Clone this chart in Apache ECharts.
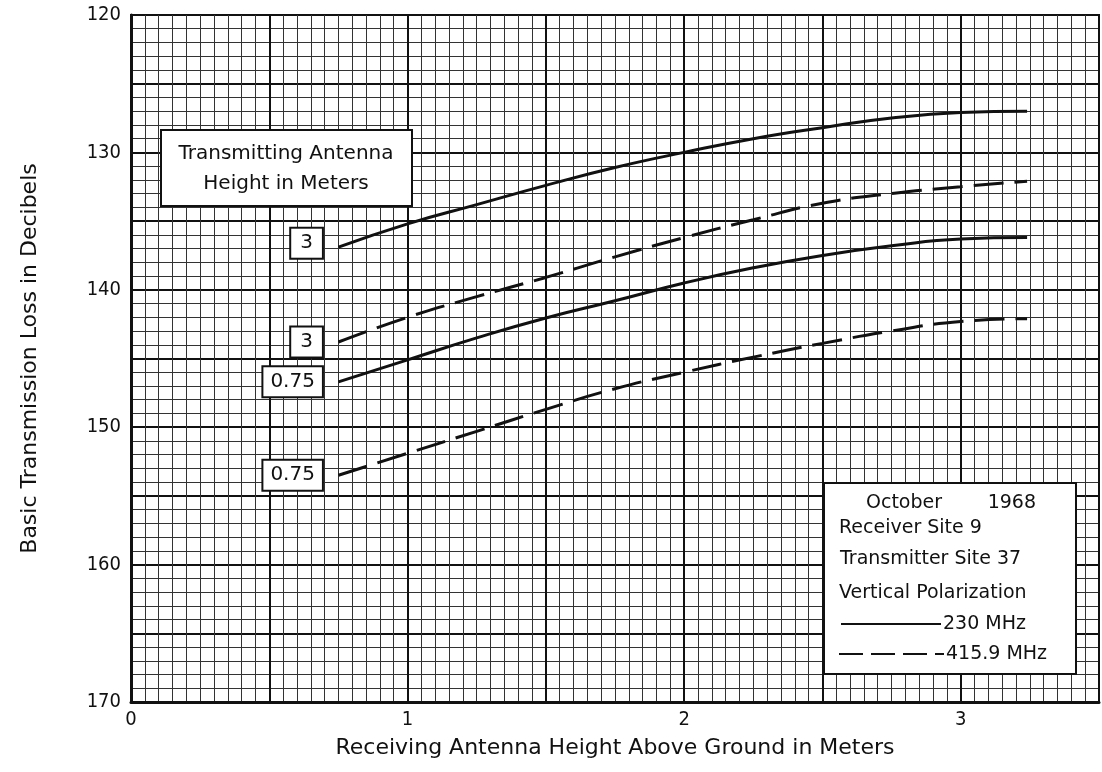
<!DOCTYPE html>
<html>
<head>
<meta charset="utf-8">
<script src="https://cdn.jsdelivr.net/npm/echarts@6/dist/echarts.min.js"></script>
<style>
html,body{margin:0;padding:0;background:#fff;}
#chart{width:1102px;height:772px;}
</style>
</head>
<body>
<div id="chart"></div>
<script>
// ---- data ----
const xPoints = [0.75, 1.0, 1.25, 1.5, 1.75, 2.0, 2.25, 2.5, 2.75, 3.0, 3.24];
const loss230_tx3 = [136.9, 135.2, 133.8, 132.4, 131.1, 130.0, 129.0, 128.2, 127.5, 127.1, 127.0];
const loss416_tx3 = [143.8, 142.0, 140.5, 139.1, 137.6, 136.2, 134.9, 133.7, 133.0, 132.5, 132.1];
const loss230_tx075 = [146.7, 145.1, 143.5, 142.05, 140.8, 139.5, 138.4, 137.5, 136.8, 136.3, 136.2];
const loss416_tx075 = [153.5, 151.9, 150.3, 148.7, 147.2, 146.0, 144.9, 143.9, 143.0, 142.3, 142.1];
const seriesNames = ['230 MHz, 3 m', '415.9 MHz, 3 m', '230 MHz, 0.75 m', '415.9 MHz, 0.75 m'];
const seriesTxLabels = ['3', '3', '0.75', '0.75'];
const seriesDashed = [false, true, false, true];
const xTickLabels = [0, 1, 2, 3];
const yTickLabels = [120, 130, 140, 150, 160, 170];
const legendLines = ['Receiver Site 9', 'Transmitter Site 37', 'Vertical Polarization'];
const freqLabels = ['230 MHz', '415.9 MHz'];

const FONT = "'DejaVu Sans', sans-serif";
const NUMFONT = "'DejaVu Sans Condensed', 'DejaVu Sans', sans-serif";
const allY = [loss230_tx3, loss416_tx3, loss230_tx075, loss416_tx075];

const series = allY.map((ys, i) => ({
  name: seriesNames[i],
  type: 'line',
  smooth: true,
  symbol: 'none',
  data: xPoints.map((x, k) => [x, ys[k]]),
  lineStyle: { color: '#111', width: 3, type: seriesDashed[i] ? [30, 11] : 'solid' },
  z: 5,
  markPoint: {
    symbol: 'circle', symbolSize: 1,
    itemStyle: { color: 'rgba(0,0,0,0)' },
    data: [{
      coord: [xPoints[0], ys[0]],
      label: {
        show: true, position: 'left', distance: 16,
        formatter: seriesTxLabels[i],
        fontFamily: FONT, fontSize: 20, color: '#111',
        backgroundColor: '#fff', borderColor: '#111', borderWidth: 2,
        padding: seriesTxLabels[i] === '3' ? [5, 9, 4, 9] : [5, 7, 4, 7],
        offset: i === 0 ? [0, -4] : [0, 0]
      }
    }]
  }
}));

function txt(x, y, s, size, align) {
  return { type: 'text', x: x, y: y, z: 101,
    style: { text: s, fontFamily: FONT, fontSize: size, fill: '#111', align: align || 'left', verticalAlign: 'middle' } };
}

const chart = echarts.init(document.getElementById('chart'), null, { renderer: 'canvas' });
chart.setOption({
  animation: false,
  backgroundColor: '#fff',
  grid: { left: 131, top: 15, right: 1, bottom: 70, show: true, borderColor: '#111', borderWidth: 2, backgroundColor: '#fff' },
  xAxis: {
    type: 'value', min: 0, max: 3.5, interval: 0.5,
    name: 'Receiving Antenna Height Above Ground in Meters',
    nameLocation: 'middle', nameGap: 35,
    nameTextStyle: { fontFamily: FONT, fontSize: 22, color: '#111' },
    axisLine: { show: true, onZero: false, lineStyle: { color: '#111', width: 3 } },
    axisTick: { show: false },
    axisLabel: {
      margin: 8, fontFamily: NUMFONT, fontSize: 20, color: '#111',
      formatter: v => xTickLabels.indexOf(v) >= 0 ? String(v) : ''
    },
    splitLine: { show: true, lineStyle: { color: '#111', width: 2 } },
    minorTick: { show: false, splitNumber: 10 },
    minorSplitLine: { show: true, lineStyle: { color: '#333', width: 1 } }
  },
  yAxis: {
    type: 'value', inverse: true, min: 120, max: 170, interval: 5,
    name: 'Basic Transmission Loss in Decibels',
    nameLocation: 'middle', nameGap: 90,
    nameTextStyle: { fontFamily: FONT, fontSize: 22, color: '#111' },
    axisLine: { show: true, onZero: false, lineStyle: { color: '#111', width: 3 } },
    axisTick: { show: false },
    axisLabel: {
      margin: 10, fontFamily: NUMFONT, fontSize: 20, color: '#111',
      formatter: v => yTickLabels.indexOf(v) >= 0 ? String(v) : ''
    },
    splitLine: { show: true, lineStyle: { color: '#111', width: 2 } },
    minorTick: { show: false, splitNumber: 5 },
    minorSplitLine: { show: true, lineStyle: { color: '#333', width: 1 } }
  },
  series: series,
  graphic: [
    {
      type: 'group', left: 160, top: 129, z: 100,
      children: [
        { type: 'rect', z: 100, shape: { x: 0, y: 0, width: 251, height: 76 },
          style: { fill: '#fff', stroke: '#111', lineWidth: 2 } },
        txt(125, 24, 'Transmitting Antenna', 20, 'center'),
        txt(125, 54, 'Height in Meters', 20, 'center')
      ]
    },
    {
      type: 'group', left: 823, top: 482, z: 100,
      children: [
        { type: 'rect', z: 100, shape: { x: 0, y: 0, width: 252, height: 191 },
          style: { fill: '#fff', stroke: '#111', lineWidth: 2 } },
        txt(42, 20, 'October', 19),
        txt(212, 20, '1968', 19, 'right'),
        txt(15, 45, legendLines[0], 19),
        txt(16, 76, legendLines[1], 19),
        txt(15, 110, legendLines[2], 19),
        { type: 'line', z: 101, shape: { x1: 17, y1: 141, x2: 117, y2: 141 },
          style: { stroke: '#111', lineWidth: 2 } },
        txt(119, 141, freqLabels[0], 19),
        { type: 'line', z: 101, shape: { x1: 15, y1: 171, x2: 120, y2: 171 },
          style: { stroke: '#111', lineWidth: 2, lineDash: [24, 8] } },
        txt(122, 171, freqLabels[1], 19)
      ]
    }
  ]
});
</script>
</body>
</html>
